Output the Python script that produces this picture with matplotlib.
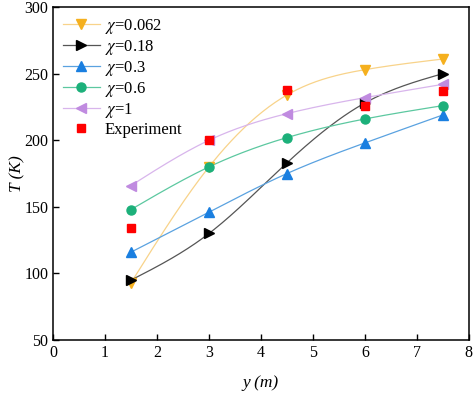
import numpy as np
import matplotlib
matplotlib.use("Agg")
import matplotlib.pyplot as plt

plt.rcParams['font.family'] = ['Liberation Serif', 'DejaVu Serif']
plt.rcParams['mathtext.fontset'] = 'stix'

y_pos = [1.5, 3.0, 4.5, 6.0, 7.5]

t_0062 = [93, 180, 234, 253, 261]
t_018 = [95, 130, 183, 228, 250]
t_03 = [116, 146, 175, 198, 219]
t_06 = [148, 180, 202, 216, 226]
t_1 = [166, 200, 220, 232, 242]
t_exp = [134, 200, 238, 226, 237]

labels = [r'$\chi$=0.062', r'$\chi$=0.18', r'$\chi$=0.3', r'$\chi$=0.6', r'$\chi$=1']


def spline(x, y, n=200):
    # natural cubic spline through the points
    x = np.asarray(x, float)
    y = np.asarray(y, float)
    k = len(x)
    h = np.diff(x)
    A = np.zeros((k, k))
    b = np.zeros(k)
    A[0, 0] = A[-1, -1] = 1
    for i in range(1, k - 1):
        A[i, i - 1] = h[i - 1]
        A[i, i] = 2 * (h[i - 1] + h[i])
        A[i, i + 1] = h[i]
        b[i] = 6 * ((y[i + 1] - y[i]) / h[i] - (y[i] - y[i - 1]) / h[i - 1])
    m = np.linalg.solve(A, b)
    xs = np.linspace(x[0], x[-1], n)
    ys = np.empty_like(xs)
    for j, xv in enumerate(xs):
        i = min(np.searchsorted(x, xv) - 1, k - 2)
        i = max(i, 0)
        t1 = x[i + 1] - xv
        t0 = xv - x[i]
        ys[j] = (m[i] * t1 ** 3 + m[i + 1] * t0 ** 3) / (6 * h[i]) \
            + (y[i] / h[i] - m[i] * h[i] / 6) * t1 \
            + (y[i + 1] / h[i] - m[i + 1] * h[i] / 6) * t0
    return xs, ys


fig = plt.figure(figsize=(4.74, 3.94), dpi=100)
ax = fig.add_axes([0.112, 0.137, 0.877, 0.845])

series = [t_0062, t_018, t_03, t_06, t_1]
colors = ['#F5B01E', '#000000', '#1A7FE0', '#1CB07A', '#C08BE0']
line_colors = ['#F8D38A', '#555555', '#5AA2E0', '#5CC8A0', '#D8B5EC']
markers = ['v', '>', '^', 'o', '<']

for vals, c, lc, mk, lab in zip(series, colors, line_colors, markers, labels):
    xs, ys = spline(y_pos, vals)
    ax.plot(xs, ys, color=lc, lw=0.9, zorder=2)
    ax.plot(y_pos, vals, ls='none', marker=mk, color=c, ms=6.5, zorder=3)
    ax.plot([], [], color=lc, lw=0.9, marker=mk, mfc=c, mec=c, ms=6.5, label=lab)

ax.plot(y_pos, t_exp, ls='none', marker='s', color='#FF0000', ms=5.5, zorder=4,
        label='Experiment')

ax.set_xlim(0, 8)
ax.set_ylim(50, 300)
ax.set_xticks(range(0, 9))
ax.set_yticks(range(50, 301, 50))
ax.tick_params(direction='in', labelsize=11.5, length=4, width=1)
for s in ax.spines.values():
    s.set_linewidth(1.1)

ax.set_xlabel('y (m)', fontsize=12.5, style='italic', labelpad=10)
ax.set_ylabel('T (K)', fontsize=12.5, style='italic', labelpad=-1)

ax.legend(loc='upper left', frameon=False, fontsize=12, handlelength=2.2,
          borderaxespad=0.2, labelspacing=0.12, handletextpad=0.3)

fig.savefig('out.png', dpi=100)
